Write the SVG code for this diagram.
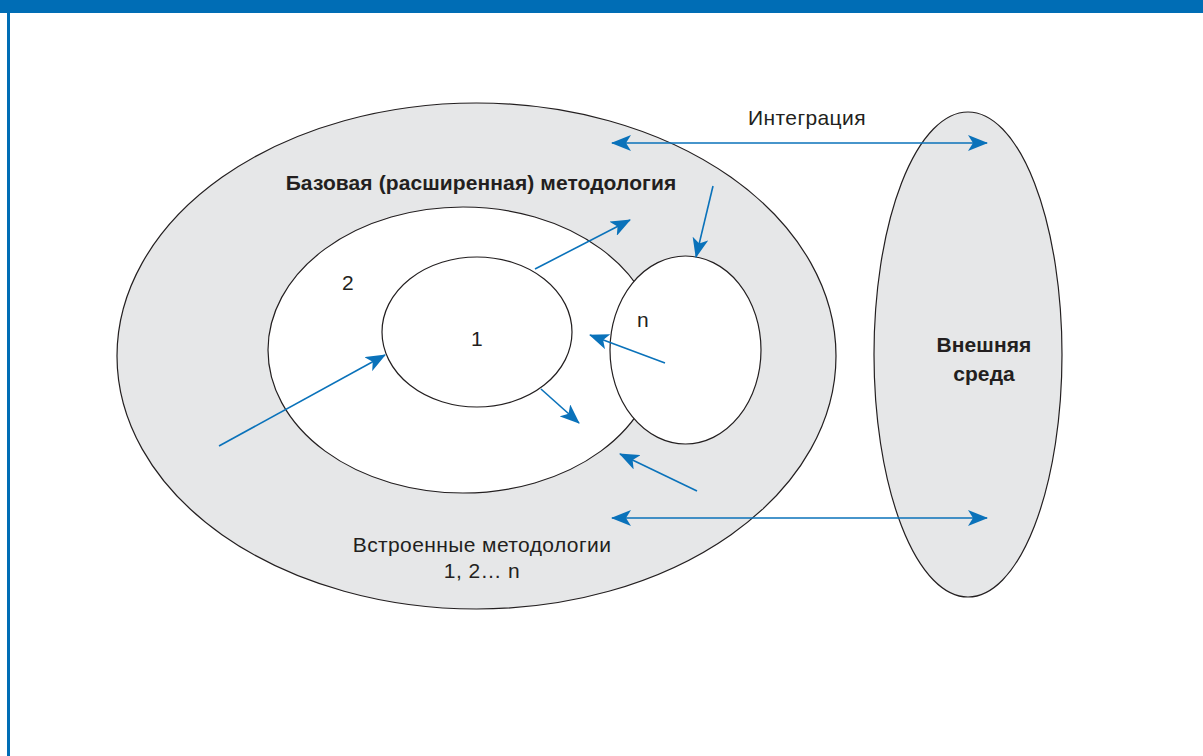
<svg xmlns="http://www.w3.org/2000/svg" width="1203" height="756" viewBox="0 0 1203 756">
<style>
.bg{fill:#fff}
.frame{fill:#006DB5}
.grey{fill:#E6E7E8;stroke:#231F20;stroke-width:1.2}
.white{fill:#fff;stroke:#231F20;stroke-width:1.2}
.arr{stroke:#0A72BA;stroke-width:1.6;fill:none}
.t{font-family:"Liberation Sans",Arial,sans-serif;font-size:21px;fill:#231F20;letter-spacing:0.4px}
.b{font-weight:bold;letter-spacing:0.1px}
</style>
<defs>
<marker id="ah2" viewBox="0 0 20 16" refX="19" refY="8" markerWidth="20" markerHeight="16" markerUnits="userSpaceOnUse" orient="auto-start-reverse">
<path d="M0,0 L20,8 L0,16 L5,8 Z" fill="#0A72BA"/>
</marker>
</defs>
<rect class="bg" x="0" y="0" width="1203" height="756"/>
<rect class="frame" x="0" y="0" width="1203" height="13"/>
<rect class="frame" x="7" y="12" width="3" height="744"/>
<g id="outer"><ellipse class="grey" cx="476.5" cy="356" rx="359.5" ry="253"/></g>
<g id="external"><ellipse class="grey" cx="968" cy="354.5" rx="94" ry="242.5"/></g>
<g id="inner2"><ellipse class="white" cx="463" cy="350" rx="195" ry="143"/></g>
<g id="node1"><ellipse class="white" cx="477" cy="332" rx="95" ry="75"/></g>
<g id="noden"><ellipse class="white" cx="685.5" cy="350" rx="75.5" ry="94"/></g>
<g id="connectors">
<line class="arr" x1="612" y1="143" x2="987" y2="143" marker-start="url(#ah2)" marker-end="url(#ah2)"/>
<line class="arr" x1="612" y1="518" x2="987" y2="518" marker-start="url(#ah2)" marker-end="url(#ah2)"/>
<line class="arr" x1="219" y1="446" x2="385" y2="355" marker-end="url(#ah2)"/>
<line class="arr" x1="535" y1="269" x2="630" y2="220" marker-end="url(#ah2)"/>
<line class="arr" x1="713" y1="186" x2="696" y2="257" marker-end="url(#ah2)"/>
<line class="arr" x1="665" y1="363" x2="590" y2="335" marker-end="url(#ah2)"/>
<line class="arr" x1="541" y1="389" x2="579" y2="423" marker-end="url(#ah2)"/>
<line class="arr" x1="697" y1="491" x2="620" y2="454" marker-end="url(#ah2)"/>
</g>
<g id="labels">
<text class="t" x="807" y="125" text-anchor="middle">Интеграция</text>
<text class="t b" x="481" y="190" text-anchor="middle">Базовая (расширенная) методология</text>
<text class="t" x="348" y="290" text-anchor="middle">2</text>
<text class="t" x="477" y="346" text-anchor="middle">1</text>
<text class="t" x="643" y="327" text-anchor="middle">n</text>
<text class="t b" x="984" y="352" text-anchor="middle">Внешняя</text>
<text class="t b" x="984" y="381" text-anchor="middle">среда</text>
<text class="t" x="482" y="552" text-anchor="middle">Встроенные методологии</text>
<text class="t" x="482" y="578" text-anchor="middle">1, 2… n</text>
</g>
</svg>
